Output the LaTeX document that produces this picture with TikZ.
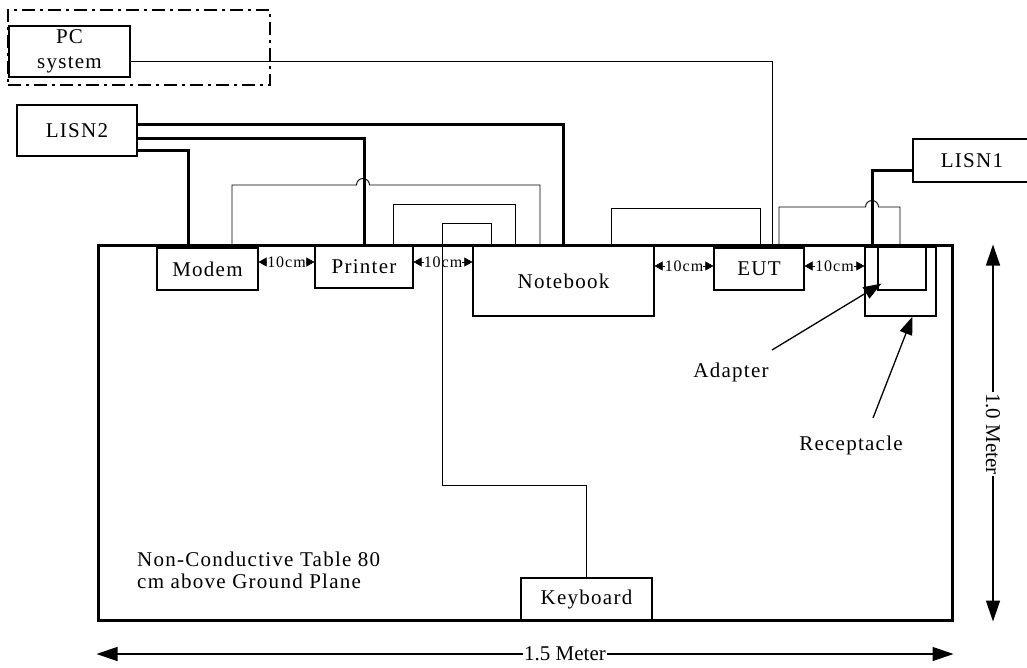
\documentclass[tikz,border=0pt]{standalone}
\usepackage{fontspec}
\setmainfont{Liberation Serif}
\newfontfamily\spaced{Liberation Serif}[LetterSpace=6]
\usetikzlibrary{arrows.meta}
\begin{document}
\begin{tikzpicture}[x=1pt,y=-1pt,
  box/.style={draw, line width=1.2pt, inner sep=0pt, align=center, font=\spaced\fontsize{21}{25}\selectfont},
  thickw/.style={line width=3pt},
  thinw/.style={line width=0.9pt},
  small/.style={inner sep=0pt, font=\spaced\fontsize{16}{18}\selectfont},
  gaparrow/.style={-{Triangle[length=8pt,width=9pt]}, line width=0.6pt},
  dimarrow/.style={{Triangle[length=21pt,width=14pt]}-{Triangle[length=21pt,width=14pt]}, line width=1.3pt},
  ptr/.style={-{Triangle[length=18pt,width=13pt]}, line width=1.3pt},
  lbl/.style={inner sep=1pt, font=\spaced\fontsize{21}{22}\selectfont},
  dimlbl/.style={fill=white, inner sep=1pt, font=\fontsize{21}{23}\selectfont}]
\useasboundingbox (0,0) rectangle (1027,668);
\clip (0,0) rectangle (1027,668);

% table
\node[draw, line width=3pt, minimum width=854pt, minimum height=374pt, inner sep=0pt] (table) at (525,433) {};

% PC frame and box
\node[draw, line width=2.2pt, dash pattern=on 13pt off 5pt on 3pt off 5pt, minimum width=262pt, minimum height=75pt, inner sep=0pt] (pcframe) at (139,47.5) {};
\node[box, minimum width=121pt, minimum height=51pt] (pc) at (69.5,51.5) {PC\\system};

% LISN boxes
\node[box, minimum width=120pt, minimum height=51pt] (lisn2) at (77,130.5) {LISN2};
\node[box, minimum width=118pt, minimum height=43pt] (lisn1) at (972,160.5) {LISN1};

% devices
\node[box, minimum width=101pt, minimum height=42pt] (modem) at (207.5,269) {Modem};
\node[box, minimum width=98pt, minimum height=42pt] (printer) at (364,267) {Printer};
\node[box, minimum width=181pt, minimum height=70pt] (notebook) at (563.5,281) {Notebook};
\node[box, minimum width=90pt, minimum height=42pt] (eut) at (759,269) {EUT};
\node[box, minimum width=71pt, minimum height=69pt] (recept) at (900.5,281.5) {};
\node[box, minimum width=48pt, minimum height=43pt] (adapter) at (902,268.5) {};
\node[box, minimum width=131pt, minimum height=43pt] (keyboard) at (586.5,599.5) {Keyboard};

% thin cables
\draw[thinw] (pc.east |- 0,61) -- (772,61) -- (772,0 |- eut.north);
\draw[thinw] (232,0 |- modem.north) -- (232,185) -- (356.5,185) arc (180:360:6.5) -- (540,185) -- (540,0 |- notebook.north);
\draw[thinw] (393,0 |- printer.north) |- (515,204) -- (515,0 |- notebook.north);
\draw[thinw] (491,0 |- notebook.north) -- (491,223) -- (442,223) -- (442,485) -| (keyboard.north);
\draw[thinw] (611,0 |- notebook.north) |- (760,208) -- (760,0 |- eut.north);
\draw[thinw] (779,0 |- eut.north) |- (865.5,207) arc (180:360:6.5) -- (900,207) -- (900,0 |- adapter.north);

% thick power cables
\draw[thickw] (lisn2.east |- 0,125) -- (563,125) -- (563,0 |- notebook.north);
\draw[thickw] (lisn2.east |- 0,139) -| (printer.north);
\draw[thickw] (lisn2.east |- 0,151) -| (188,0 |- modem.north);
\draw[thickw] (lisn1.west |- 0,171) -| (872,0 |- adapter.north);

% 10cm gaps
\node[small] (g1) at (286.5,262) {10cm};
\draw[gaparrow] (g1.west) -- (modem.east |- g1.west);
\draw[gaparrow] (g1.east) -- (printer.west |- g1.east);
\node[small] (g2) at (443,262) {10cm};
\draw[gaparrow] (g2.west) -- (printer.east |- g2.west);
\draw[gaparrow] (g2.east) -- (notebook.west |- g2.east);
\node[small] (g3) at (684,266) {10cm};
\draw[gaparrow] (g3.west) -- (notebook.east |- g3.west);
\draw[gaparrow] (g3.east) -- (eut.west |- g3.east);
\node[small] (g4) at (834.5,266) {10cm};
\draw[gaparrow] (g4.west) -- (eut.east |- g4.west);
\draw[gaparrow] (g4.east) -- (recept.west |- g4.east);

% labels with pointers
\node[lbl] (adlbl) at (731,372) {Adapter};
\node[lbl] (rclbl) at (851,445) {Receptacle};
\coordinate (adstart) at (772,350);
\coordinate (rcstart) at (873,418);
\draw[ptr] (adstart) -- ([xshift=4pt,yshift=7pt]adapter.south west);
\draw[ptr] (rcstart) -- ([xshift=12pt]recept.south);

% table caption
\node[lbl, anchor=west, align=left] (caption) at (136,570) {Non-Conductive Table 80\\cm above Ground Plane};

% dimensions
\draw[dimarrow] (993,0 |- table.north) -- (993,0 |- table.south);
\node[dimlbl, rotate=-90] (vdim) at (993,434) {1.0 Meter};
\draw[dimarrow] (table.west |- 0,654) -- (table.east |- 0,654);
\node[dimlbl] (hdim) at (565,654) {1.5 Meter};
\end{tikzpicture}
\end{document}
